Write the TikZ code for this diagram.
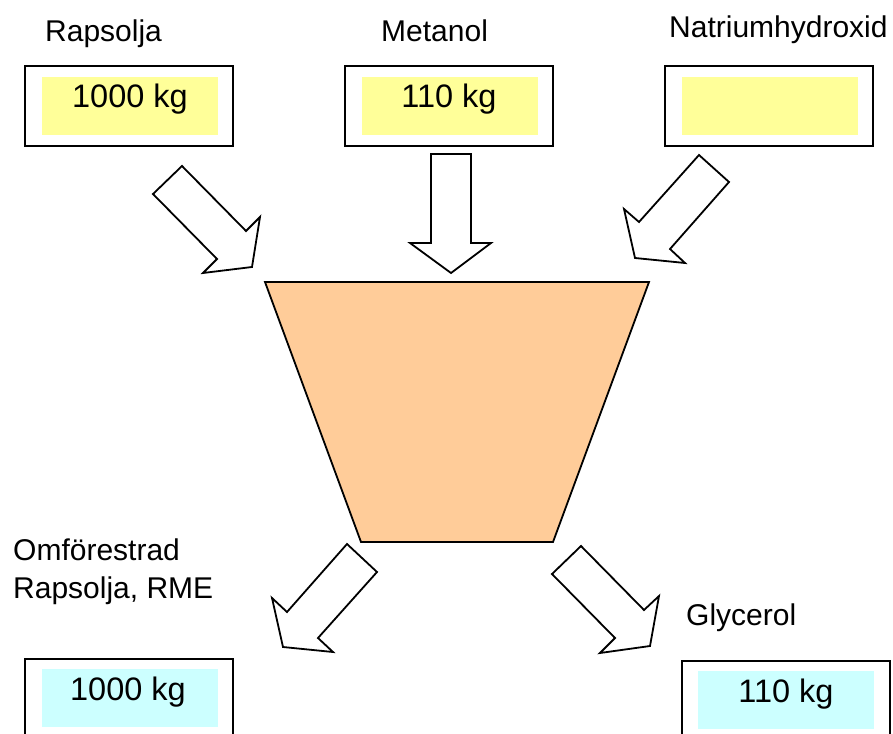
\documentclass[tikz,border=0pt]{standalone}
\usepackage{fontspec}
\setmainfont{Liberation Sans}
\usepackage{tikz}
\usepackage{xcolor}
\definecolor{feedyellow}{HTML}{FFFF99}
\definecolor{productcyan}{HTML}{CCFFFF}
\definecolor{tankorange}{HTML}{FFCC99}
\tikzset{
    mass-box/.style = {draw=black, fill=white, line width=1.8pt, rectangle, minimum width=208pt, minimum height=80pt, inner sep=0pt},
    mass-fill/.style = {rectangle, minimum width=176pt, minimum height=58pt, inner sep=0pt},
    mass-text/.style = {anchor=base, inner sep=0pt, font=\fontsize{32.5}{36}\selectfont},
    label-text/.style = {anchor=base west, inner sep=0pt, align=left, font=\fontsize{30}{38}\selectfont},
    flow-arrow/.style = {draw=black, fill=white, line width=1.8pt, line join=miter},
}

\begin{document}
\begin{tikzpicture}[x=1pt, y=-1pt]
\useasboundingbox (0,0) rectangle (893,733);

% inflows
\node[label-text] (rapsolja-label) at (45,42) {Rapsolja};
\node[mass-box] (rapsolja-box) at (129,106) {};
\node[mass-fill, fill=feedyellow] (rapsolja-fill) at (130,106) {};
\node[mass-text] (rapsolja-mass) at (130,108) {1000 kg};

\node[label-text] (metanol-label) at (381,42) {Metanol};
\node[mass-box] (metanol-box) at (449,106) {};
\node[mass-fill, fill=feedyellow] (metanol-fill) at (450,106) {};
\node[mass-text] (metanol-mass) at (449,108) {110 kg};

\node[label-text] (naoh-label) at (669,38) {Natriumhydroxid};
\node[mass-box] (naoh-box) at (769,106) {};
\node[mass-fill, fill=feedyellow] (naoh-fill) at (770,106) {};

% reactor
\filldraw[fill=tankorange, draw=black, line width=1.8pt] (265,282) -- (649,282) -- (553,542) -- (361,542) -- cycle;

\draw[flow-arrow] (153,194) -- (182,166) -- (246,231) -- (260,217) -- (252,267) -- (203,273) -- (217,259) -- cycle;
\draw[flow-arrow] (431,154) -- (471,154) -- (471,243) -- (491,243) -- (451,273) -- (410,243) -- (431,243) -- cycle;
\draw[flow-arrow] (699,155) -- (729,182) -- (670,249) -- (685,263) -- (635,258) -- (624,209) -- (639,222) -- cycle;

% outflows
\draw[flow-arrow] (347,544) -- (377,572) -- (318,638) -- (333,652) -- (283,647) -- (272,598) -- (287,612) -- cycle;
\draw[flow-arrow] (552,574) -- (581,546) -- (644,610) -- (659,596) -- (650,646) -- (600,653) -- (615,638) -- cycle;

\node[label-text] (rme-label) at (13,598) {Omförestrad\\Rapsolja, RME};
\node[mass-box] (rme-box) at (129,699) {};
\node[mass-fill, fill=productcyan] (rme-fill) at (130,698) {};
\node[mass-text] (rme-mass) at (128,700) {1000 kg};

\node[label-text] (glycerol-label) at (686,625) {Glycerol};
\node[mass-box] (glycerol-box) at (786,701) {};
\node[mass-fill, fill=productcyan] (glycerol-fill) at (786,700) {};
\node[mass-text] (glycerol-mass) at (786,702) {110 kg};
\end{tikzpicture}
\end{document}
